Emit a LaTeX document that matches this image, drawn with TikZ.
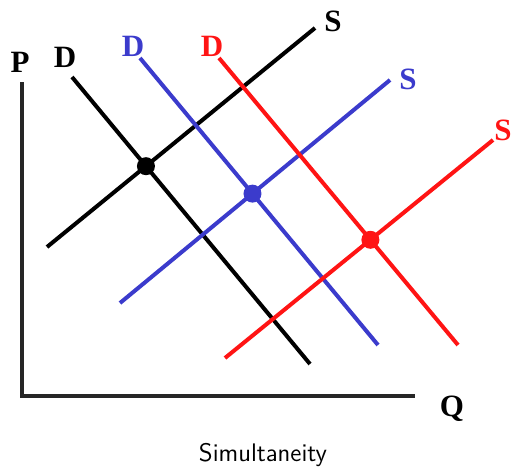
\documentclass[tikz,border=0pt]{standalone}
\usepackage{fontspec}
\setmainfont{Liberation Serif}
\usetikzlibrary{calc}
\definecolor{curveblue}{HTML}{3B3BCC}
\definecolor{curvered}{HTML}{FF1414}

\begin{document}
\begin{tikzpicture}[
  x=0.5pt, y=-0.5pt,
  curve/.style={line width=2pt},
  axis/.style={line width=1.6pt, draw=black!85},
  lbl/.style={font=\fontsize{15.5}{17}\selectfont\bfseries, inner sep=0pt},
  eq/.style={circle, inner sep=0pt, minimum size=9pt}
]
\useasboundingbox (0,0) rectangle (513,467);

% axes
\coordinate (ptop) at (22,82);
\coordinate (orig) at (22,396);
\coordinate (qend) at (415,396);
\draw[axis] (ptop) -- (orig) -- (qend);
\node[lbl] (plbl) at (20,62) {P};
\node[lbl] (qlbl) at (452,409) {Q};

% demand and supply curves
\coordinate (d1a) at (72,77);   \coordinate (d1b) at (310,364);
\coordinate (d2a) at (140,58);  \coordinate (d2b) at (378,345);
\coordinate (d3a) at (219,58);  \coordinate (d3b) at (458,345);
\coordinate (s1a) at (47,247);  \coordinate (s1b) at (315,28);
\coordinate (s2a) at (120,303); \coordinate (s2b) at (390,80);
\coordinate (s3a) at (225,358); \coordinate (s3b) at (493,140);

\draw[curve, black] (d1a) -- (d1b);
\draw[curve, black] (s1a) -- (s1b);
\draw[curve, curveblue] (d2a) -- (d2b);
\draw[curve, curveblue] (s2a) -- (s2b);
\draw[curve, curvered] (d3a) -- (d3b);
\draw[curve, curvered] (s3a) -- (s3b);

\node[lbl, text=black] (d1lbl) at (65,57) {D};
\node[lbl, text=curveblue] (d2lbl) at (133,46) {D};
\node[lbl, text=curvered] (d3lbl) at (212,46) {D};
\node[lbl, text=black] (s1lbl) at (333,21) {S};
\node[lbl, text=curveblue] (s2lbl) at (408,79) {S};
\node[lbl, text=curvered] (s3lbl) at (503,130) {S};

% equilibria
\node[eq, fill=black] (e1) at (intersection of d1a--d1b and s1a--s1b) {};
\node[eq, fill=curveblue] (e2) at (intersection of d2a--d2b and s2a--s2b) {};
\node[eq, fill=curvered] (e3) at (intersection of d3a--d3b and s3a--s3b) {};

\node[font=\sffamily\fontsize{12.7}{14}\selectfont] (cap) at (263,455) {Simultaneity};
\end{tikzpicture}
\end{document}
